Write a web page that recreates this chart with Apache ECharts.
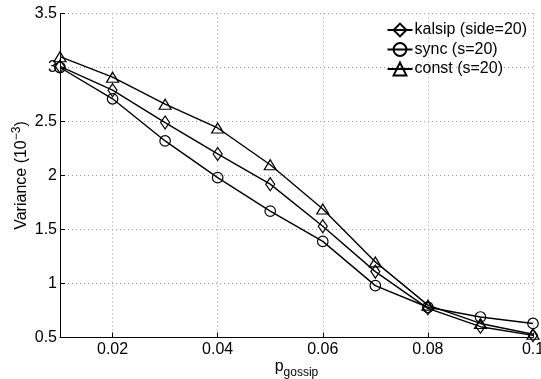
<!DOCTYPE html>
<html>
<head>
<meta charset="utf-8">
<script src="https://cdn.jsdelivr.net/npm/echarts@6/dist/echarts.min.js"></script>
<style>
  html, body { margin: 0; padding: 0; background: #fff; }
  #chart { width: 541px; height: 379px; }
</style>
</head>
<body>
<div id="chart"></div>
<script>
// Gossip probability values on the x axis
const pGossip = [0.01, 0.02, 0.03, 0.04, 0.05, 0.06, 0.07, 0.08, 0.09, 0.1];

// Variance (x 10^-3) for each scheme
const kalsipSide20 = [3.01, 2.79, 2.49, 2.20, 1.92, 1.53, 1.11, 0.77, 0.60, 0.52];
const syncS20      = [3.00, 2.71, 2.32, 1.98, 1.67, 1.39, 0.98, 0.78, 0.69, 0.63];
const constS20     = [3.10, 2.91, 2.66, 2.44, 2.10, 1.69, 1.20, 0.80, 0.63, 0.53];

// Tick positions
const xTicks = [0.02, 0.04, 0.06, 0.08, 0.1];

const seriesNames = ['kalsip (side=20)', 'sync (s=20)', 'const (s=20)'];

const FONT = '"Liberation Sans", Arial, Helvetica, sans-serif';

function pairs(xs, ys) {
  return xs.map((x, i) => [x, ys[i]]);
}

function makeSeries(name, values, symbol, size) {
  return {
    name: name,
    type: 'line',
    data: pairs(pGossip, values),
    symbol: symbol,
    symbolSize: size,
    showAllSymbol: true,
    lineStyle: { color: '#000', width: 1.4 },
    itemStyle: { color: 'rgba(0,0,0,0)', borderColor: '#000', borderWidth: 1.2 },
    emphasis: { disabled: true },
    animation: false,
    z: 3
  };
}

const gridLine = { show: true, lineStyle: { color: '#a0a0a0', type: [1, 3], width: 1 } };

const chart = echarts.init(document.getElementById('chart'), null, { renderer: 'canvas' });

chart.setOption({
  backgroundColor: '#fff',
  animation: false,
  textStyle: { fontFamily: FONT },
  grid: { left: 60, right: 8, top: 13.5, bottom: 41.5, containLabel: false, outerBoundsMode: 'none' },
  legend: {
    right: 14,
    top: 22,
    padding: 0,
    orient: 'vertical',
    itemWidth: 25,
    itemHeight: 16,
    itemGap: 3.5,
    data: seriesNames,
    textStyle: { fontFamily: FONT, fontSize: 16, color: '#000', padding: [0, 0, 0, -3] },
    selectedMode: false
  },
  xAxis: {
    type: 'value',
    min: 0.01,
    max: 0.1,
    name: '{p|p}{sub|gossip}',
    nameLocation: 'middle',
    nameGap: 17,
    nameMoveOverlap: false,
    nameTextStyle: {
      rich: {
        p: { fontFamily: FONT, fontSize: 16, color: '#000' },
        sub: { fontFamily: FONT, fontSize: 12, color: '#000', padding: [12, 0, 0, 0] }
      }
    },
    axisLine: { show: true, lineStyle: { color: '#000', width: 1 } },
    axisTick: { show: true, inside: true, length: 5, customValues: xTicks, lineStyle: { color: '#000' } },
    axisLabel: { customValues: xTicks, fontFamily: FONT, fontSize: 16, color: '#000', margin: 4,
      formatter: v => (Math.abs(v - 0.1) < 1e-9 ? '0.1' : v.toFixed(2)) },
    splitLine: gridLine
  },
  yAxis: {
    type: 'value',
    min: 0.5,
    max: 3.5,
    interval: 0.5,
    name: '{v|Variance (10}{sup|−3}{v|)}',
    nameLocation: 'middle',
    nameGap: 28,
    nameRotate: 90,
    nameMoveOverlap: false,
    nameTextStyle: {
      rich: {
        v: { fontFamily: FONT, fontSize: 16, color: '#000' },
        sup: { fontFamily: FONT, fontSize: 12, color: '#000', padding: [0, 0, 9, 0] }
      }
    },
    axisLine: { show: true, lineStyle: { color: '#000', width: 1 } },
    axisTick: { show: true, inside: true, length: 5, lineStyle: { color: '#000' } },
    axisLabel: { fontFamily: FONT, fontSize: 16, color: '#000', margin: 3,
      formatter: v => String(v) },
    splitLine: gridLine
  },
  series: [
    makeSeries(seriesNames[0], kalsipSide20, 'diamond', [9, 13]),
    makeSeries(seriesNames[1], syncS20, 'circle', 10.5),
    makeSeries(seriesNames[2], constS20, 'triangle', [12, 10])
  ]
});
</script>
</body>
</html>
